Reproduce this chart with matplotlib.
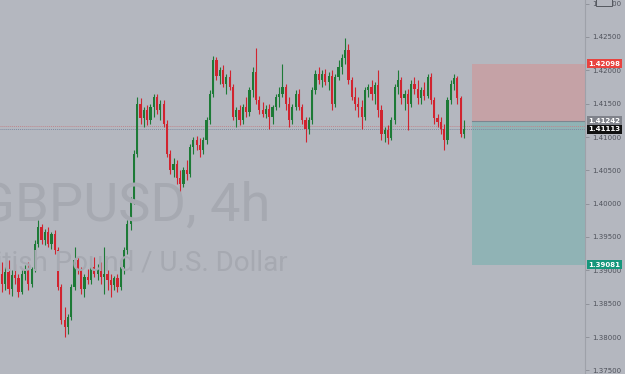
import matplotlib
matplotlib.use("Agg")
import matplotlib.pyplot as plt
from matplotlib.patches import Rectangle
from matplotlib.transforms import blended_transform_factory

# ---------------------------------------------------------------------------
# Theme (TradingView-like grey chart)
# ---------------------------------------------------------------------------
_BG = "#b4b7bf"
_UP = "#1d7a36"
_DOWN = "#d1242f"
_WATERMARK = "#a6a9b1"
_LABEL = "#4f525b"
_LOSS = "#c5a2a6"
_PROFIT = "#90b3b5"

# ---------------------------------------------------------------------------
# Data: GBPUSD 4h candles
# ---------------------------------------------------------------------------
opens = [
    1.3895, 1.3880, 1.3898, 1.3872, 1.3893, 1.3888, 1.3868, 1.3895, 1.3900, 1.3880,
    1.3902, 1.3940, 1.3965, 1.3945, 1.3958, 1.3940, 1.3955, 1.3930, 1.3875, 1.3825,
    1.3815, 1.3830, 1.3875, 1.3915, 1.3900, 1.3872, 1.3890, 1.3885, 1.3905, 1.3895,
    1.3900, 1.3890, 1.3895, 1.3885, 1.3878, 1.3888, 1.3875, 1.3905, 1.3930, 1.3970,
    1.4005, 1.4075, 1.4150, 1.4128, 1.4140, 1.4125, 1.4145, 1.4160, 1.4140, 1.4150,
    1.4120, 1.4075, 1.4050, 1.4060, 1.4038, 1.4030, 1.4050, 1.4045, 1.4085, 1.4095,
    1.4088, 1.4080, 1.4095, 1.4125, 1.4165, 1.4215, 1.4192, 1.4200, 1.4180, 1.4190,
    1.4175, 1.4130, 1.4140, 1.4125, 1.4145, 1.4138, 1.4170, 1.4198, 1.4155, 1.4140,
    1.4135, 1.4142, 1.4130, 1.4145, 1.4160, 1.4165, 1.4175, 1.4150, 1.4125, 1.4145,
    1.4165, 1.4145, 1.4125, 1.4112, 1.4125, 1.4170, 1.4195, 1.4185, 1.4195, 1.4182,
    1.4192, 1.4150, 1.4190, 1.4205, 1.4218, 1.4230, 1.4185, 1.4160, 1.4150, 1.4145,
    1.4130, 1.4170, 1.4175, 1.4165, 1.4178, 1.4140, 1.4105, 1.4110, 1.4098, 1.4125,
    1.4175, 1.4185, 1.4158, 1.4165, 1.4150, 1.4180, 1.4172, 1.4158, 1.4170, 1.4162,
    1.4190, 1.4155, 1.4128, 1.4122, 1.4112, 1.4095, 1.4155, 1.4180, 1.4188, 1.4158,
    1.4105,
]
highs = [
    1.3912, 1.3905, 1.3915, 1.3900, 1.3910, 1.3895, 1.3900, 1.3908, 1.3912, 1.3905,
    1.3945, 1.3975, 1.3970, 1.3962, 1.3965, 1.3958, 1.3960, 1.3935, 1.3880, 1.3845,
    1.3835, 1.3880, 1.3935, 1.3920, 1.3905, 1.3895, 1.3902, 1.3908, 1.3920, 1.3910,
    1.3912, 1.3935, 1.3900, 1.3895, 1.3892, 1.3895, 1.3910, 1.3935, 1.3975, 1.4010,
    1.4080, 1.4160, 1.4158, 1.4145, 1.4148, 1.4150, 1.4165, 1.4165, 1.4155, 1.4155,
    1.4125, 1.4080, 1.4068, 1.4065, 1.4050, 1.4055, 1.4065, 1.4090, 1.4100, 1.4102,
    1.4098, 1.4100, 1.4130, 1.4170, 1.4222, 1.4220, 1.4205, 1.4208, 1.4195, 1.4200,
    1.4180, 1.4145, 1.4148, 1.4150, 1.4160, 1.4175, 1.4205, 1.4233, 1.4162, 1.4152,
    1.4148, 1.4150, 1.4148, 1.4165, 1.4175, 1.4210, 1.4180, 1.4160, 1.4150, 1.4170,
    1.4172, 1.4150, 1.4130, 1.4130, 1.4175, 1.4200, 1.4205, 1.4200, 1.4202, 1.4198,
    1.4200, 1.4195, 1.4215, 1.4225, 1.4249, 1.4240, 1.4190, 1.4175, 1.4160, 1.4155,
    1.4175, 1.4180, 1.4185, 1.4182, 1.4200, 1.4148, 1.4115, 1.4118, 1.4130, 1.4180,
    1.4200, 1.4190, 1.4170, 1.4172, 1.4185, 1.4190, 1.4185, 1.4175, 1.4182, 1.4195,
    1.4196, 1.4160, 1.4135, 1.4130, 1.4120, 1.4160, 1.4185, 1.4195, 1.4192, 1.4162,
    1.4125,
]
lows = [
    1.3868, 1.3870, 1.3865, 1.3862, 1.3880, 1.3860, 1.3865, 1.3885, 1.3870, 1.3875,
    1.3898, 1.3935, 1.3940, 1.3938, 1.3935, 1.3932, 1.3925, 1.3870, 1.3820, 1.3800,
    1.3805, 1.3825, 1.3870, 1.3895, 1.3865, 1.3860, 1.3880, 1.3880, 1.3890, 1.3885,
    1.3880, 1.3865, 1.3870, 1.3860, 1.3870, 1.3868, 1.3870, 1.3895, 1.3925, 1.3960,
    1.4000, 1.4070, 1.4120, 1.4115, 1.4118, 1.4120, 1.4130, 1.4135, 1.4125, 1.4115,
    1.4070, 1.4045, 1.4040, 1.4030, 1.4015, 1.4025, 1.4035, 1.4040, 1.4075, 1.4080,
    1.4070, 1.4075, 1.4090, 1.4120, 1.4160, 1.4185, 1.4180, 1.4175, 1.4165, 1.4170,
    1.4125, 1.4115, 1.4118, 1.4120, 1.4130, 1.4132, 1.4160, 1.4150, 1.4135, 1.4130,
    1.4128, 1.4112, 1.4120, 1.4140, 1.4145, 1.4160, 1.4140, 1.4115, 1.4120, 1.4140,
    1.4140, 1.4120, 1.4092, 1.4105, 1.4120, 1.4165, 1.4180, 1.4175, 1.4178, 1.4170,
    1.4140, 1.4145, 1.4185, 1.4195, 1.4210, 1.4180, 1.4155, 1.4140, 1.4130, 1.4112,
    1.4125, 1.4160, 1.4155, 1.4150, 1.4130, 1.4095, 1.4092, 1.4090, 1.4095, 1.4120,
    1.4165, 1.4150, 1.4140, 1.4110, 1.4145, 1.4165, 1.4150, 1.4150, 1.4155, 1.4158,
    1.4150, 1.4120, 1.4115, 1.4105, 1.4080, 1.4090, 1.4150, 1.4170, 1.4150, 1.4100,
    1.4098,
]
closes = [
    1.3880, 1.3898, 1.3872, 1.3893, 1.3888, 1.3868, 1.3895, 1.3900, 1.3880, 1.3902,
    1.3940, 1.3965, 1.3945, 1.3958, 1.3940, 1.3955, 1.3930, 1.3875, 1.3825, 1.3815,
    1.3830, 1.3875, 1.3915, 1.3900, 1.3872, 1.3890, 1.3885, 1.3905, 1.3895, 1.3900,
    1.3890, 1.3895, 1.3885, 1.3878, 1.3888, 1.3875, 1.3905, 1.3930, 1.3970, 1.4005,
    1.4075, 1.4150, 1.4128, 1.4140, 1.4125, 1.4145, 1.4160, 1.4140, 1.4150, 1.4120,
    1.4075, 1.4050, 1.4060, 1.4038, 1.4030, 1.4050, 1.4045, 1.4085, 1.4095, 1.4088,
    1.4080, 1.4095, 1.4125, 1.4165, 1.4215, 1.4192, 1.4200, 1.4180, 1.4190, 1.4175,
    1.4130, 1.4140, 1.4125, 1.4145, 1.4138, 1.4170, 1.4198, 1.4155, 1.4140, 1.4135,
    1.4142, 1.4130, 1.4145, 1.4160, 1.4165, 1.4175, 1.4150, 1.4125, 1.4145, 1.4165,
    1.4145, 1.4125, 1.4112, 1.4125, 1.4170, 1.4195, 1.4185, 1.4195, 1.4182, 1.4192,
    1.4150, 1.4190, 1.4205, 1.4218, 1.4230, 1.4185, 1.4160, 1.4150, 1.4145, 1.4130,
    1.4170, 1.4175, 1.4165, 1.4178, 1.4140, 1.4105, 1.4110, 1.4098, 1.4125, 1.4175,
    1.4185, 1.4158, 1.4165, 1.4150, 1.4180, 1.4172, 1.4158, 1.4170, 1.4162, 1.4190,
    1.4155, 1.4128, 1.4122, 1.4112, 1.4095, 1.4155, 1.4180, 1.4188, 1.4158, 1.4105,
    1.41113,
]

price_ticks = [1.375, 1.380, 1.385, 1.390, 1.395, 1.400, 1.405,
               1.410, 1.415, 1.420, 1.425, 1.430]

# short position tool
stop_price = 1.42098
entry_price = 1.41242
target_price = 1.39081
last_price = 1.41113
ask_price = 1.41170

symbol_text = "GBPUSD, 4h"
name_text = "British Pound / U.S. Dollar"

# ---------------------------------------------------------------------------
# Figure
# ---------------------------------------------------------------------------
W, H = 625, 374
fig = plt.figure(figsize=(W / 100, H / 100), dpi=100, facecolor=_BG)
ax = fig.add_axes([0, 0, 585 / W, 1])
ax.set_facecolor(_BG)

# watermark (left part scrolled out of view, as in the screenshot)
fig.text(270 / W, 1 - 221 / H, symbol_text, ha="right", va="baseline",
         fontsize=39, family="Roboto", color=_WATERMARK, zorder=0)
fig.text(288 / W, 1 - 270 / H, name_text, ha="right", va="baseline",
         fontsize=20, family="Roboto", color=_WATERMARK, zorder=0)

xs = list(range(len(closes)))
colors = [_UP if c >= o else _DOWN for o, c in zip(opens, closes)]
bottoms = [min(o, c) for o, c in zip(opens, closes)]
heights = [max(abs(c - o), 0.00004) for o, c in zip(opens, closes)]

ax.vlines(xs, lows, highs, colors=colors, linewidth=0.8, zorder=3)
ax.bar(xs, heights, bottom=bottoms, width=0.66, color=colors,
       edgecolor="none", zorder=4)

ax.set_xlim(-0.6, 176.7)
ax.set_ylim(1.37445, 1.43055)

# position tool boxes
box_start = 472 / 585
ax.axhspan(entry_price, stop_price, xmin=box_start, xmax=1,
           color=_LOSS, lw=0, zorder=1)
ax.axhspan(target_price, entry_price, xmin=box_start, xmax=1,
           color=_PROFIT, lw=0, zorder=1)
ax.axhline(entry_price, xmin=box_start, xmax=1, color="#7d8690", lw=0.8, zorder=2)

# price lines
ax.axhline(ask_price, color="#c0868c", lw=0.7, ls=(0, (1, 1)), zorder=2)
ax.axhline(last_price, color="#7e8aa0", lw=0.7, ls=(0, (1, 1)), zorder=2)

# right price scale
ax.set_xticks([])
ax.yaxis.tick_right()
ax.set_yticks(price_ticks)
ax.set_yticklabels([f"{p:.5f}" for p in price_ticks])
ax.tick_params(axis="y", length=3, width=0.6, color="#8a8d95",
               labelsize=5, labelcolor=_LABEL, pad=2)
for side in ("top", "left", "bottom"):
    ax.spines[side].set_visible(False)
ax.spines["right"].set_color("#9ea1a9")
ax.spines["right"].set_linewidth(0.8)

tr = blended_transform_factory(ax.transAxes, ax.transData)
for price, bg in [(stop_price, "#e8433f"), (entry_price, "#80838b"),
                  (last_price, "#111111"), (target_price, "#16977c")]:
    ax.text(1.006, price, f"{price:.5f}", transform=tr, ha="left", va="center",
            fontsize=5, color="white", fontweight="bold", clip_on=False, zorder=6,
            bbox=dict(boxstyle="square,pad=0.22", fc=bg, ec="none"))

# small overlay button at the top of the price scale
fig.patches.append(Rectangle((596 / W, 1 - 6 / H), 16 / W, 8 / H,
                             transform=fig.transFigure, fc=_BG, ec="#55585f",
                             lw=0.7, zorder=10))

fig.savefig("out.png", dpi=100, facecolor=_BG)
